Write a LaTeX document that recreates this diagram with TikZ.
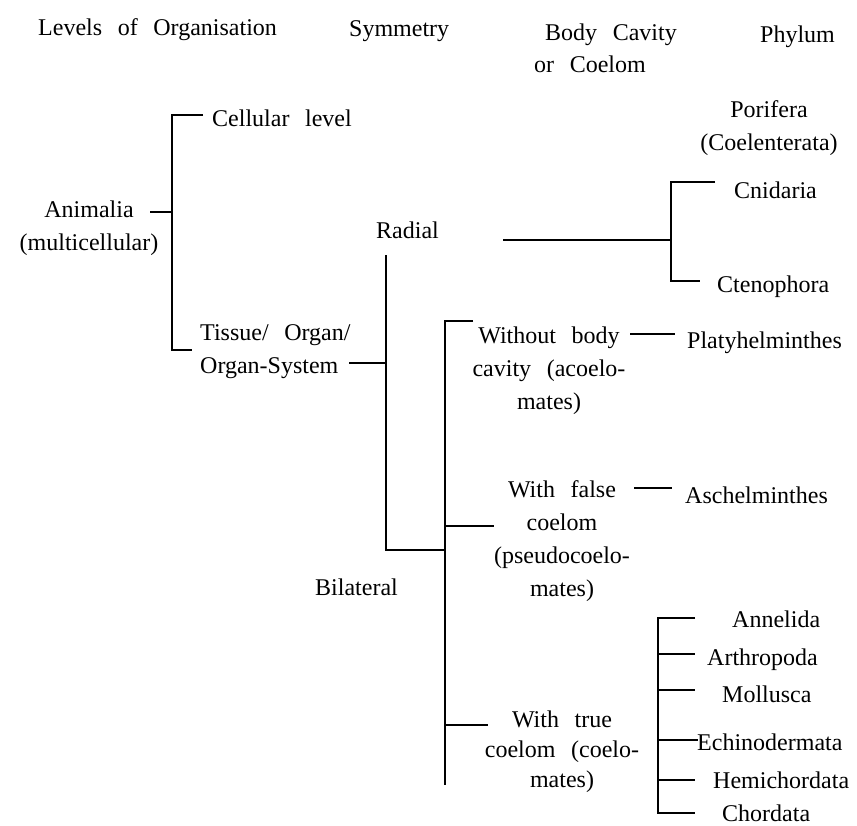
\documentclass[tikz,border=0pt]{standalone}
\usepackage{fontspec}
\setmainfont{Liberation Serif}[WordSpace=2.6]
\begin{document}
\begin{tikzpicture}[x=1pt,y=-1pt,
  txt/.style={inner sep=0pt, font=\fontsize{24}{33}\selectfont},
  tighttxt/.style={inner sep=0pt, font=\fontsize{24}{30}\selectfont},
  ln/.style={line width=2.4pt, line cap=butt, line join=miter}]
\useasboundingbox (0,0) rectangle (857,825);
% headers
\node[txt,anchor=base west] (hLevels) at (38,35) {Levels of Organisation};
\node[txt,anchor=base west] (hSym) at (349,36) {Symmetry};
\node[txt,anchor=base west] (hBody) at (545,40) {Body Cavity};
\node[txt,anchor=base west] (hCoel) at (534,72) {or Coelom};
\node[txt,anchor=base west] (hPhy) at (760,42) {Phylum};
% level of organisation (base anchor = baseline of last line)
\node[txt,anchor=base,align=center] (animalia) at (89,250) {Animalia\\(multicellular)};
\node[txt,anchor=base west] (cellular) at (212,126) {Cellular level};
\node[txt,anchor=base west,align=left] (tissue) at (200,373) {Tissue/ Organ/\\Organ-System};
% symmetry
\node[txt,anchor=base west] (radial) at (376,238) {Radial};
\node[txt,anchor=base west] (bilateral) at (315,595) {Bilateral};
% body cavity
\node[txt,anchor=base,align=center] (acoel) at (549,409) {Without body\\cavity (acoelo-\\mates)};
\node[txt,anchor=base,align=center] (pseudo) at (562,596) {With false\\coelom\\(pseudocoelo-\\mates)};
\node[tighttxt,anchor=base,align=center] (coel) at (562,787) {With true\\coelom (coelo-\\mates)};
% phyla
\node[txt,anchor=base,align=center] (porifera) at (769,150) {Porifera\\(Coelenterata)};
\node[txt,anchor=base west] (cnidaria) at (734,198) {Cnidaria};
\node[txt,anchor=base west] (cteno) at (717,292) {Ctenophora};
\node[txt,anchor=base west] (platy) at (687,348) {Platyhelminthes};
\node[txt,anchor=base west] (asch) at (685,503) {Aschelminthes};
\node[txt,anchor=base west] (annel) at (732,627) {Annelida};
\node[txt,anchor=base west] (arthro) at (707,665) {Arthropoda};
\node[txt,anchor=base west] (mollus) at (722,702) {Mollusca};
\node[txt,anchor=base west] (echino) at (697,750) {Echinodermata};
\node[txt,anchor=base west] (hemi) at (713,788) {Hemichordata};
\node[txt,anchor=base west] (chord) at (722,821) {Chordata};
% joints
\coordinate (a0) at (150,212);
\coordinate (a1) at (172,212);
\coordinate (a2) at (172,115);
\coordinate (a3) at (203,115);
\coordinate (a4) at (172,350);
\coordinate (a5) at (192,350);
\coordinate (s0) at (349,363);
\coordinate (s1) at (386,363);
\coordinate (s2) at (386,255);
\coordinate (s3) at (386,550);
\coordinate (s4) at (445,550);
\coordinate (r0) at (503,240);
\coordinate (r1) at (671,240);
\coordinate (r2) at (671,182);
\coordinate (r3) at (715,182);
\coordinate (r4) at (671,281);
\coordinate (r5) at (700,281);
\coordinate (c0) at (445,321);
\coordinate (c1) at (473,321);
\coordinate (c2) at (445,785);
\coordinate (c3) at (445,526);
\coordinate (c4) at (494,526);
\coordinate (c5) at (445,725);
\coordinate (c6) at (488,725);
\coordinate (p0) at (630,334);
\coordinate (p1) at (675,334);
\coordinate (q0) at (634,488);
\coordinate (q1) at (672,488);
\coordinate (t0) at (658,618);
\coordinate (t1) at (695,618);
\coordinate (t2) at (658,813);
\coordinate (t3) at (695,813);
\coordinate (t4) at (658,654);
\coordinate (t5) at (695,654);
\coordinate (t6) at (658,690);
\coordinate (t7) at (695,690);
\coordinate (t8) at (658,740);
\coordinate (t9) at (698,740);
\coordinate (t10) at (658,780);
\coordinate (t11) at (695,780);
% connectors
\draw[ln] (a0) -- (a1);
\draw[ln] (a3) -- (a2) -- (a4) -- (a5);
\draw[ln] (s0) -- (s1);
\draw[ln] (s2) -- (s3) -- (s4);
\draw[ln] (r0) -- (r1);
\draw[ln] (r3) -- (r2) -- (r4) -- (r5);
\draw[ln] (c1) -- (c0) -- (c2);
\draw[ln] (c3) -- (c4);
\draw[ln] (c5) -- (c6);
\draw[ln] (p0) -- (p1);
\draw[ln] (q0) -- (q1);
\draw[ln] (t1) -- (t0) -- (t2) -- (t3);
\draw[ln] (t4) -- (t5);
\draw[ln] (t6) -- (t7);
\draw[ln] (t8) -- (t9);
\draw[ln] (t10) -- (t11);
\end{tikzpicture}
\end{document}
